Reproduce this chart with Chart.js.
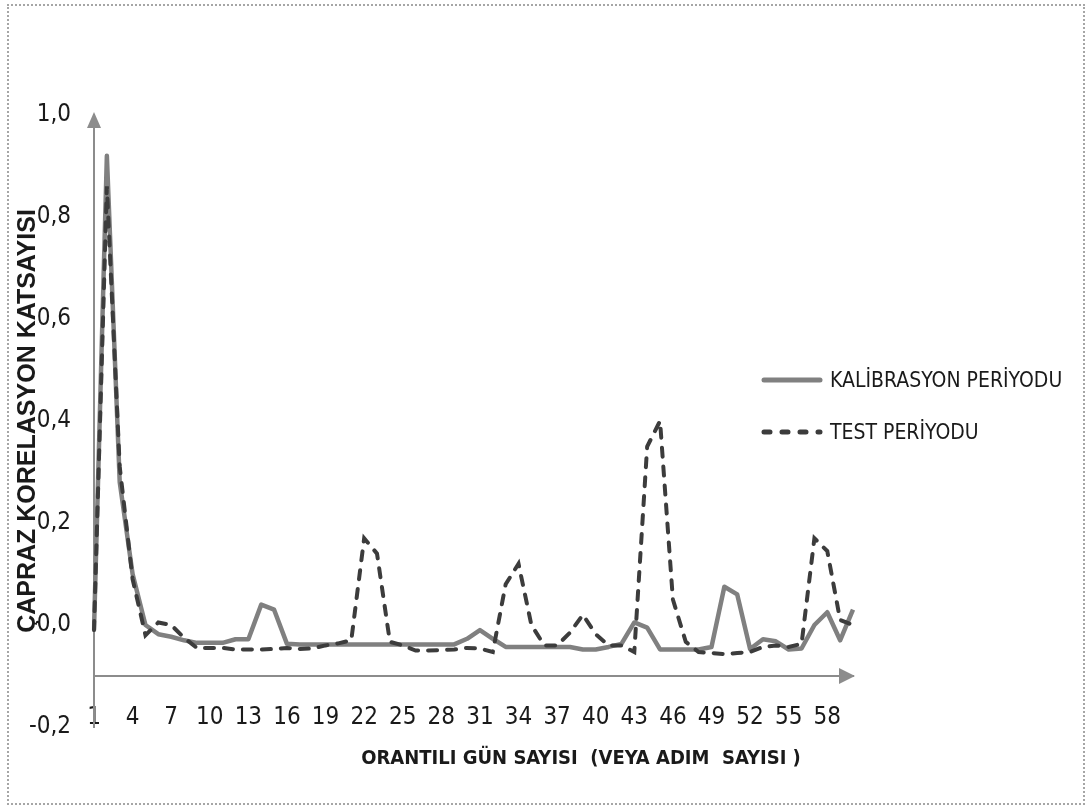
<!DOCTYPE html>
<html>
<head>
<meta charset="utf-8">
<script src="https://cdn.jsdelivr.net/npm/chart.js@4.4.1/dist/chart.umd.min.js"></script>
<style>
  body { margin: 0; background: #fff; }
  #frame { position: absolute; left: 7px; top: 4px; width: 1074px; height: 797px; border: 2px dotted #a6a6a6; }
  #wrap { position: absolute; left: 0; top: 0; width: 1089px; height: 809px; }
  .narrow { font-family: "Liberation Sans Narrow", "DejaVu Sans Condensed", sans-serif; color: #1a1a1a; }
  #xtitle { position: absolute; left: 581px; top: 757px; transform: translate(-50%, -50%); font-size: 20px; font-weight: bold; white-space: pre; }
  .leg { position: absolute; left: 760px; height: 30px; display: flex; align-items: center; font-size: 21px; white-space: nowrap; }
  .leg svg { margin-right: 6px; }
</style>
</head>
<body>
<div id="frame"></div>
<div id="wrap"><canvas id="chart" width="1089" height="809"></canvas></div>
<div id="xtitle" class="narrow">ORANTILI GÜN SAYISI  (VEYA ADIM  SAYISI )</div>
<div id="legend"></div>
<script>
// Gün sayısı (kategoriler)
const gunler = ['1','2','3','4','5','6','7','8','9','10','11','12','13','14','15','16','17','18','19','20',
  '21','22','23','24','25','26','27','28','29','30','31','32','33','34','35','36','37','38','39','40',
  '41','42','43','44','45','46','47','48','49','50','51','52','53','54','55','56','57','58','59','60'];

// Kalibrasyon periyodu çapraz korelasyon
const kalibrasyon = [-0.01, 0.92, 0.28, 0.10, 0.00, -0.018, -0.023, -0.03, -0.035, -0.035,
  -0.035, -0.028, -0.028, 0.04, 0.03, -0.037, -0.038, -0.038, -0.038, -0.038,
  -0.038, -0.038, -0.038, -0.038, -0.038, -0.038, -0.038, -0.038, -0.038, -0.027,
  -0.01, -0.027, -0.043, -0.043, -0.043, -0.043, -0.043, -0.043, -0.048, -0.048,
  -0.043, -0.037, 0.005, -0.005, -0.048, -0.048, -0.048, -0.048, -0.043, 0.075,
  0.06, -0.047, -0.028, -0.032, -0.048, -0.046, 0.0, 0.025, -0.03, 0.03];

// Test periyodu çapraz korelasyon
const test = [-0.01, 0.86, 0.31, 0.09, -0.02, 0.005, 0.0, -0.025, -0.045, -0.045,
  -0.045, -0.048, -0.048, -0.048, -0.047, -0.045, -0.047, -0.046, -0.04, -0.036,
  -0.03, 0.17, 0.14, -0.033, -0.04, -0.05, -0.05, -0.049, -0.048, -0.045,
  -0.046, -0.053, 0.08, 0.12, 0.0, -0.04, -0.04, -0.015, 0.02, -0.018,
  -0.04, -0.04, -0.053, 0.35, 0.40, 0.05, -0.033, -0.053, -0.055, -0.057,
  -0.055, -0.053, -0.043, -0.04, -0.043, -0.037, 0.17, 0.145, 0.01, 0.0];

const yTikler = [-0.2, 0, 0.2, 0.4, 0.6, 0.8, 1.0];

const dar = '"Liberation Sans Narrow", "DejaVu Sans Condensed", sans-serif';
const eksenRenk = '#8c8c8c';

// Eksen okları
const oklar = {
  id: 'oklar',
  afterDraw(chart) {
    const { ctx, chartArea } = chart;
    const y0 = chart.scales.y.getPixelForValue(-0.1);
    ctx.save();
    ctx.fillStyle = eksenRenk;
    ctx.beginPath();
    ctx.moveTo(chartArea.left, chartArea.top - 3);
    ctx.lineTo(chartArea.left - 7, chartArea.top + 13);
    ctx.lineTo(chartArea.left + 7, chartArea.top + 13);
    ctx.closePath();
    ctx.fill();
    ctx.beginPath();
    ctx.moveTo(chartArea.right + 2, y0);
    ctx.lineTo(chartArea.right - 14, y0 - 8);
    ctx.lineTo(chartArea.right - 14, y0 + 8);
    ctx.closePath();
    ctx.fill();
    ctx.restore();
  }
};

const chart = new Chart(document.getElementById('chart'), {
  type: 'line',
  data: {
    labels: gunler,
    datasets: [
      {
        label: 'KALİBRASYON PERİYODU',
        data: kalibrasyon,
        borderColor: '#808080',
        borderWidth: 4.5,
        borderJoinStyle: 'round',
        pointRadius: 0,
        tension: 0,
        order: 1
      },
      {
        label: 'TEST PERİYODU',
        data: test,
        borderColor: '#3c3c3c',
        borderWidth: 4,
        borderDash: [9, 10],
        borderCapStyle: 'round',
        pointRadius: 0,
        tension: 0,
        order: 0
      }
    ]
  },
  options: {
    responsive: false,
    animation: false,
    layout: { padding: { top: 115, right: 236, bottom: 82, left: 0 } },
    plugins: { legend: { display: false }, tooltip: { enabled: false } },
    scales: {
      x: {
        position: { y: -0.1 },
        offset: false,
        grid: { display: false, drawTicks: false },
        border: { display: true, color: eksenRenk, width: 2 },
        ticks: {
          autoSkip: false,
          maxRotation: 0,
          padding: 27,
          color: '#1a1a1a',
          font: { family: dar, size: 24 },
          callback: (v, i) => (i % 3 === 0 ? gunler[i] : '')
        }
      },
      y: {
        min: -0.2,
        max: 1.0,
        afterFit: (s) => { s.width = 94; },
        afterBuildTicks: (s) => { s.ticks = yTikler.map(v => ({ value: v })); },
        grid: { display: false, drawTicks: false },
        border: { display: true, color: eksenRenk, width: 2 },
        ticks: {
          padding: 23,
          color: '#1a1a1a',
          font: { family: dar, size: 24 },
          callback: (v) => v.toFixed(1).replace('.', ',')
        },
        title: {
          display: true,
          text: 'ÇAPRAZ KORELASYON KATSAYISI',
          color: '#1a1a1a',
          padding: { top: 13, bottom: 0 },
          font: { family: '"Liberation Sans", Arial, sans-serif', size: 25, weight: 'bold', lineHeight: 1.2 }
        }
      }
    }
  },
  plugins: [oklar]
});

// Açıklama (legend)
const legendY = [380, 432];
const legend = document.getElementById('legend');
chart.data.datasets.forEach((ds, i) => {
  const div = document.createElement('div');
  div.className = 'leg narrow';
  div.style.top = (legendY[i] - 15) + 'px';
  const dash = ds.borderDash ? 'stroke-dasharray="6 12"' : '';
  div.innerHTML = '<svg width="64" height="10"><line x1="4" y1="5" x2="60" y2="5" stroke="' + ds.borderColor +
    '" stroke-width="5" stroke-linecap="round" ' + dash + '/></svg><span>' + ds.label + '</span>';
  legend.appendChild(div);
});
</script>
</body>
</html>
